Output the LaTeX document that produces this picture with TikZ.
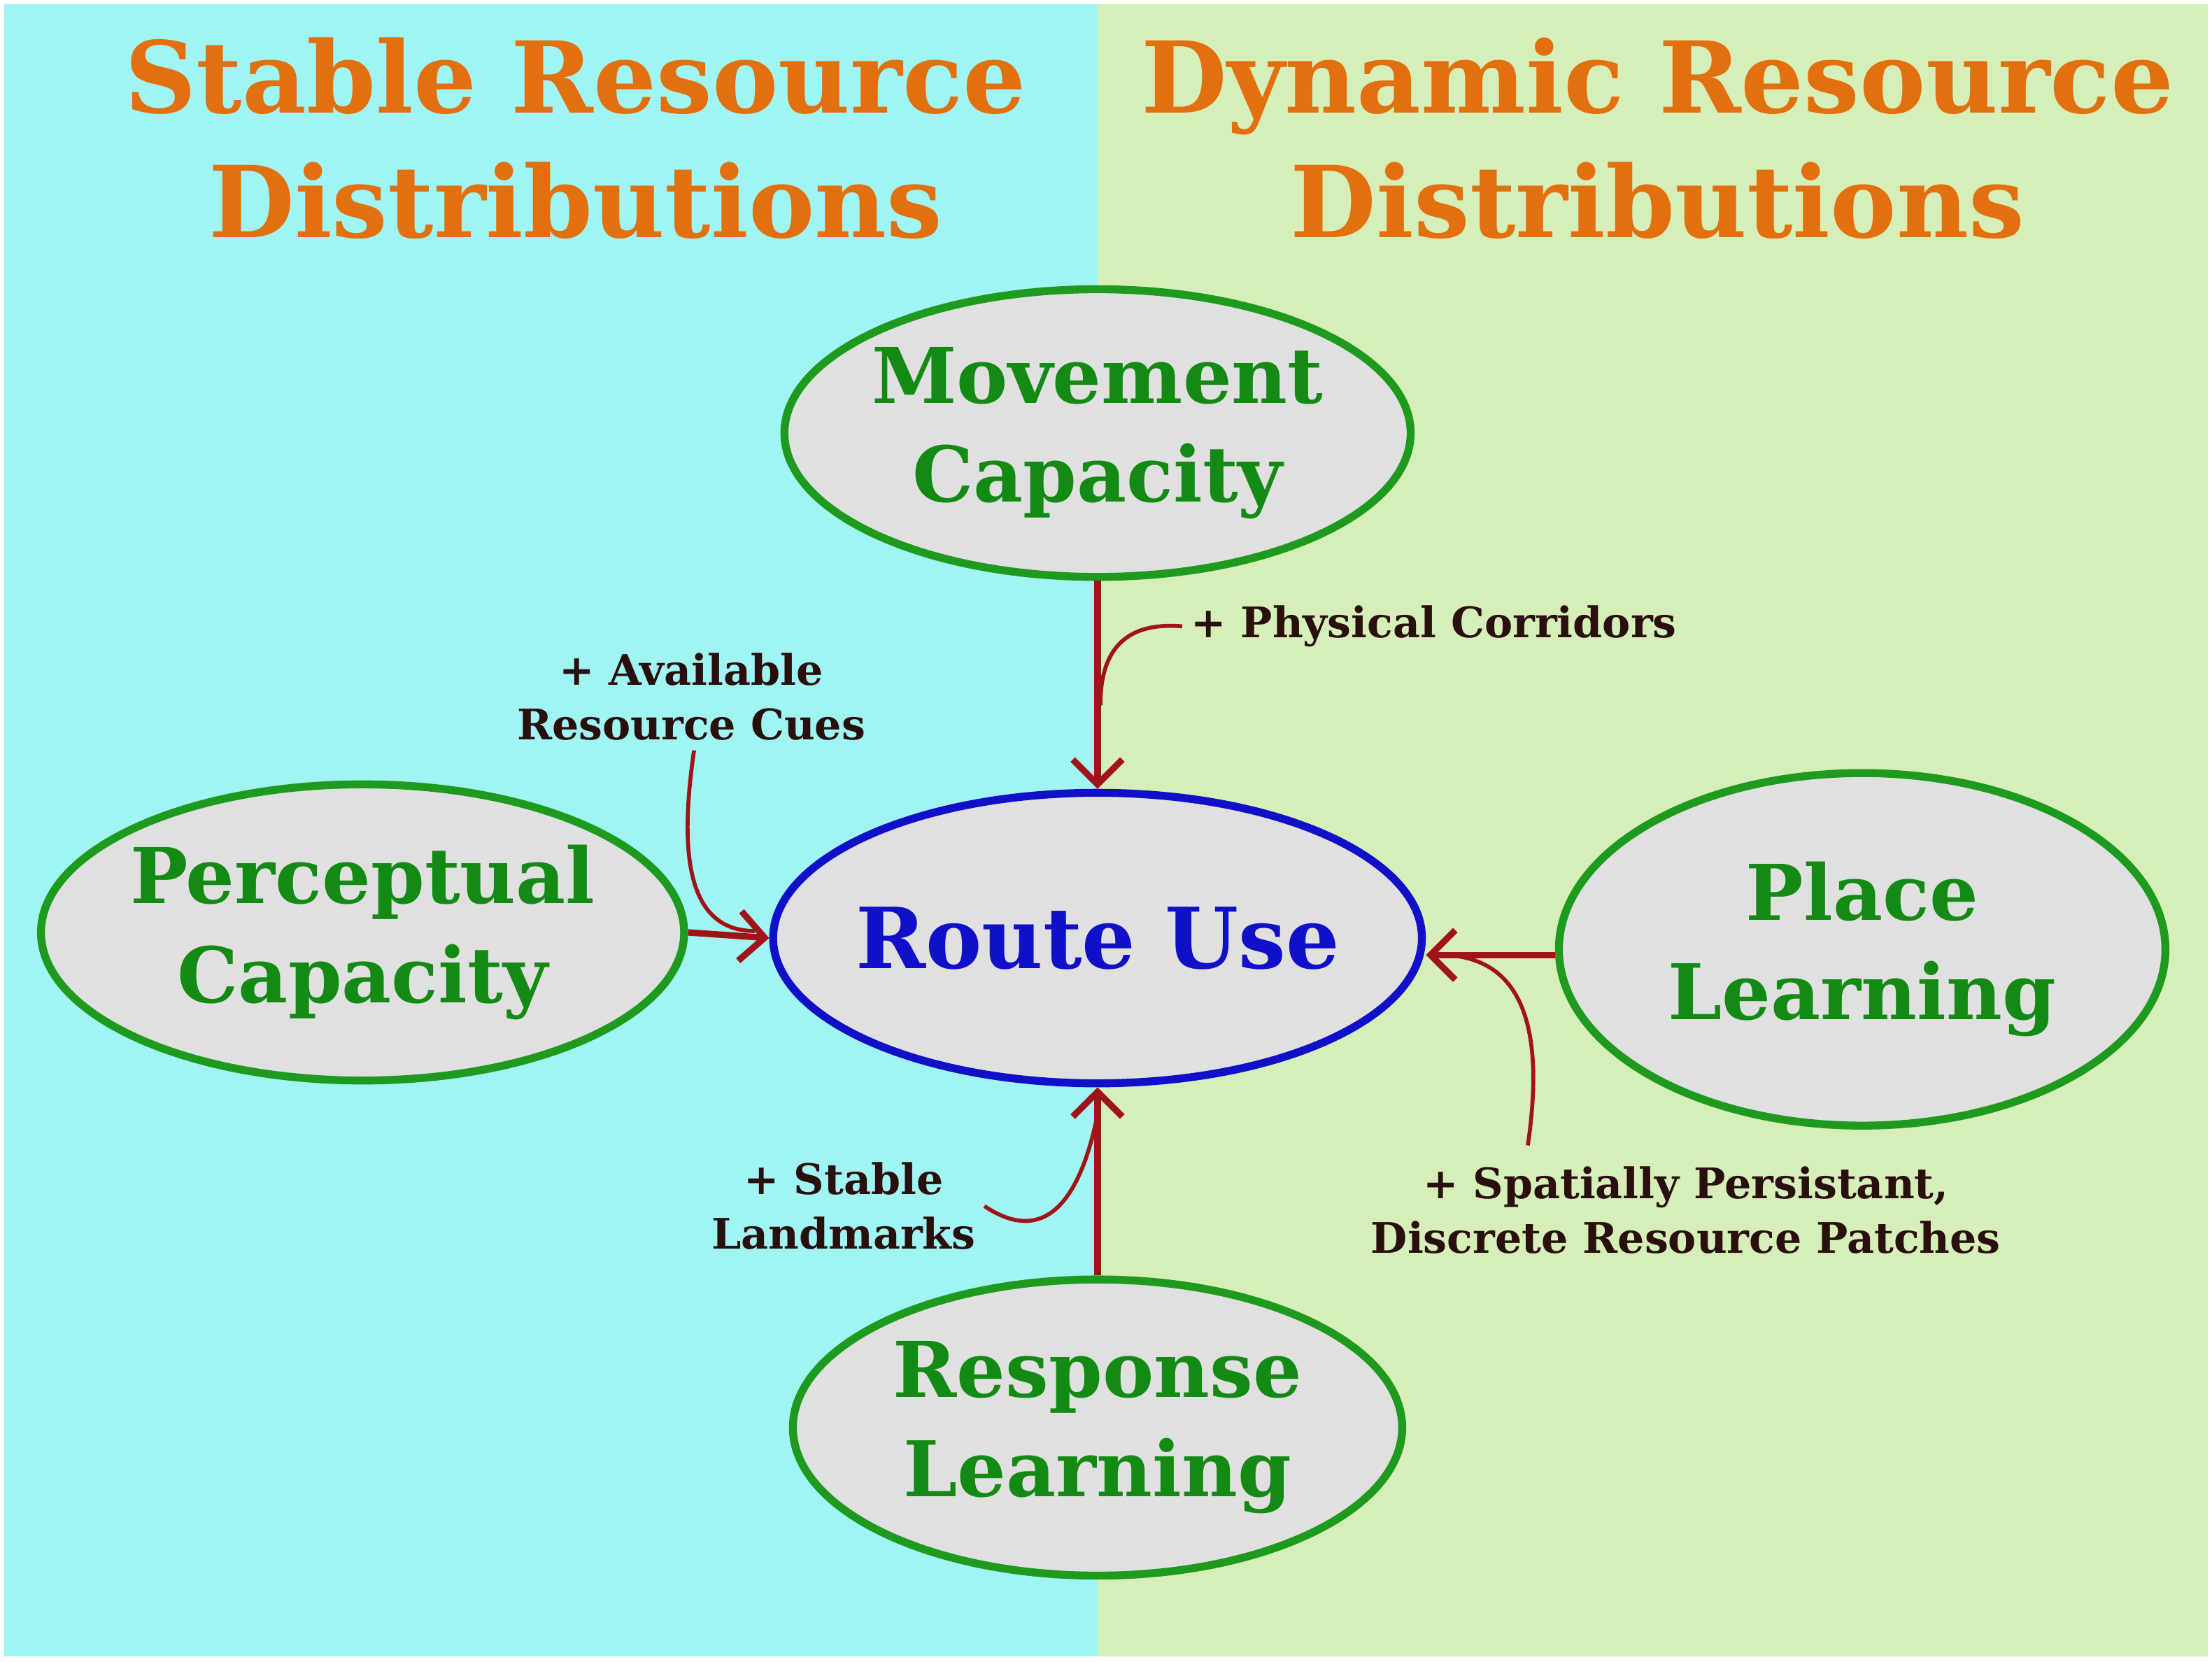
\documentclass[tikz,border=0pt]{standalone}
\usepackage{fontspec}
\setmainfont{DejaVu Serif}
\usetikzlibrary{arrows.meta,shapes.geometric}
\definecolor{cyanbg}{HTML}{A0F4F2}
\definecolor{greenbg}{HTML}{D6EFB8}
\definecolor{ovalfill}{HTML}{E0E0E0}
\definecolor{ovalgreen}{HTML}{1E9A1E}
\definecolor{txtgreen}{HTML}{138A13}
\definecolor{routeblue}{HTML}{1010C8}
\definecolor{arrred}{HTML}{A01418}
\definecolor{lbl}{HTML}{2A0F0F}
\definecolor{titleor}{HTML}{E2700F}
\tikzset{
  oval/.style={ellipse, draw=ovalgreen, line width=3.2pt, fill=ovalfill, inner sep=0pt},
  ovaltxt/.style={text=txtgreen, align=center, font=\fontsize{31}{40}\selectfont\bfseries},
  lab/.style={text=lbl, align=center, font=\fontsize{17}{22}\selectfont\bfseries},
  ttl/.style={text=titleor, align=center, font=\fontsize{40}{50}\selectfont\bfseries},
  arr/.style={draw=arrred, line width=2.6pt, -{Straight Barb[length=10pt,width=20pt]}},
  crv/.style={draw=arrred, line width=1.6pt},
}
\begin{document}
\begin{tikzpicture}[x=0.02cm,y=-0.02cm]
\useasboundingbox (0,0) rectangle (1568,1178);
\fill[white] (0,0) rectangle (1568,1178);
\fill[cyanbg] (3,3) rectangle (778,1174);
\fill[greenbg] (778,3) rectangle (1565,1174);
\node[ttl] (t1) at (408,98) {Stable Resource\\Distributions};
\node[ttl] (t2) at (1175,98) {Dynamic Resource\\Distributions};
\node[oval, minimum width=8.88cm, minimum height=4.08cm] (mov) at (778,307) {};
\node[ovaltxt] (movt) at (mov.center) {Movement\\Capacity};
\node[oval, minimum width=9.12cm, minimum height=4.2cm] (per) at (257,661) {};
\node[ovaltxt] (pert) at (per.center) {Perceptual\\Capacity};
\node[oval, minimum width=8.6cm, minimum height=5cm] (pla) at (1320,673) {};
\node[ovaltxt] (plat) at (pla.center) {Place\\Learning};
\node[oval, minimum width=8.64cm, minimum height=4.2cm] (res) at (778,1012) {};
\node[ovaltxt] (rest) at (res.center) {Response\\Learning};
\node[oval, draw=routeblue, minimum width=9.2cm, minimum height=4.12cm] (rou) at (778,665) {};
\node[text=routeblue, font=\fontsize{34}{40}\selectfont\bfseries] (rout) at (rou.center) {Route Use};
\node[lab, anchor=west] (l1) at (838,444) {+ Physical Corridors};
\node[lab] (l2) at (490,494) {+ Available\\Resource Cues};
\node[lab] (l3) at (1195,858) {+ Spatially Persistant,\\Discrete Resource Patches};
\node[lab] (l4) at (598,855) {+ Stable\\Landmarks};
\draw[arr] (mov.south) -- (rou.north);
\draw[arr] (per.east) -- (rou.west);
\draw[arr] (pla.west |- 0,677) -- (rou.east |- 0,677);
\draw[arr] (res.north) -- (rou.south);
\draw[crv] (l1.west) .. controls (790,440) and (780,470) .. (780,500);
\draw[crv] (492,532) .. controls (482,600) and (485,660) .. (535,660);
\draw[crv] (1083,812) .. controls (1095,730) and (1080,680) .. (1025,677);
\draw[crv] (l4.east) .. controls (750,890) and (770,830) .. (778,790);
\end{tikzpicture}
\end{document}
